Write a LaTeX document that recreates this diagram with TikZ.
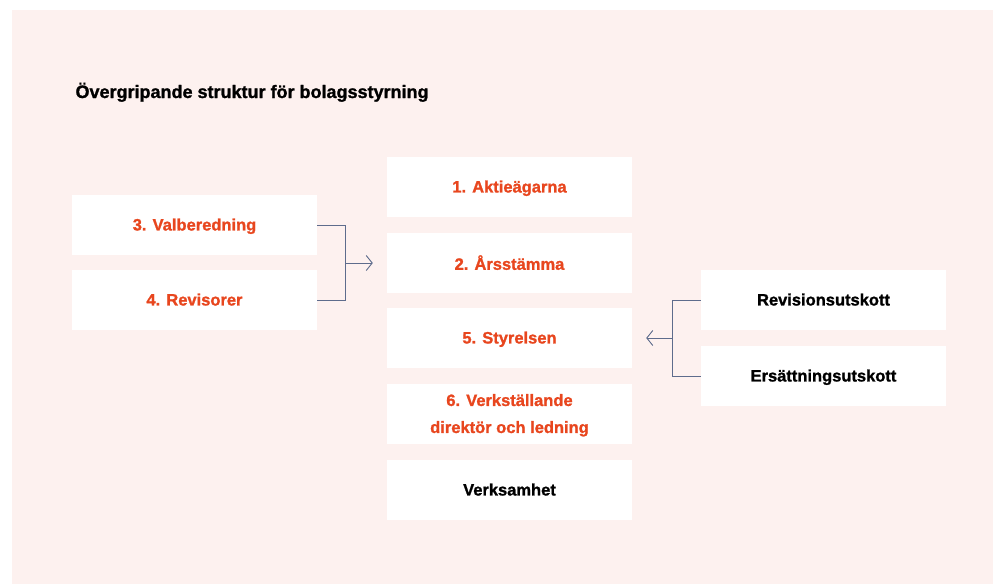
\documentclass[tikz,border=0pt]{standalone}
\usepackage{fontspec}
\setmainfont[BoldFeatures={FakeBold=1.2}]{Liberation Sans}
\usetikzlibrary{arrows.meta}

\definecolor{bgpink}{HTML}{FDF1EF}
\definecolor{orangered}{HTML}{E8461E}
\definecolor{linkblue}{HTML}{5E6C8C}

\begin{document}
\begin{tikzpicture}[
        x=1pt, y=-1pt,
        font=\bfseries\fontsize{16.5}{27}\selectfont,
        box/.style={fill=white, minimum width=245pt, minimum height=60pt,
                    inner sep=0pt, align=center, text depth=1pt},
        num/.style={box, text=orangered},
        plain/.style={box, text=black},
        link/.style={draw=linkblue, line width=0.9pt},
        tip/.style={-{Straight Barb[length=6pt,width=15pt,line width=0.9pt]}},
      ]
        \fill[bgpink] (12,10) rectangle (993,584);
        \useasboundingbox (0,0) rectangle (993,584);

        \node[anchor=base west, font=\bfseries\fontsize{18}{22}\selectfont] (title) at (72,98)
          {Övergripande struktur för bolagsstyrning};

        % middle column
        \foreach \nm/\y/\sty/\lab in {
          agare/187/num/{1. Aktieägarna},
          stamma/263/num/{2. Årsstämma},
          styrelse/338/num/{5. Styrelsen},
          vd/414/num/{6. Verkställande\\direktör och ledning},
          verks/490/plain/{Verksamhet}} {
          \node[\sty] (\nm) at (509.5,\y) {\lab};
        }

        % left column
        \node[num] (valb) at (194.5,225) {3. Valberedning};
        \node[num] (revi) at (194.5,300) {4. Revisorer};

        % right column
        \node[plain] (revu) at (823.5,300) {Revisionsutskott};
        \node[plain] (ersu) at (823.5,376) {Ersättningsutskott};

        % connectors
        \coordinate (lj) at (345,263);
        \draw[link] (valb.east) -| (lj);
        \draw[link] (revi.east) -| (lj);
        \draw[link, tip] (lj) -- ([xshift=-14pt]stamma.west);

        \coordinate (rj) at (672,338);
        \draw[link] (revu.west) -| (rj);
        \draw[link] (ersu.west) -| (rj);
        \draw[link, tip] (rj) -- ([xshift=14pt]styrelse.east);
      \end{tikzpicture}
\end{document}
